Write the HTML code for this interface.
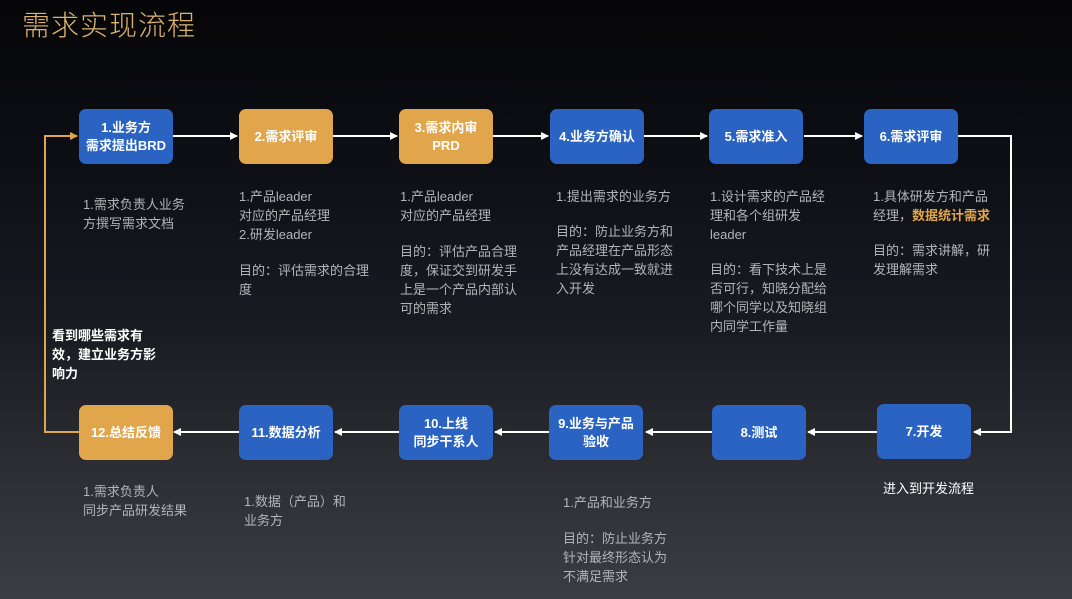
<!DOCTYPE html>
<html><head><meta charset="utf-8"><style>
*{margin:0;padding:0}
body{width:1072px;height:599px;overflow:hidden;position:relative;font-family:"Liberation Sans","Noto Sans CJK SC",sans-serif;
background:linear-gradient(180deg,#060608 0%,#0d0e14 25%,#1a1b22 55%,#2e2f35 80%,#3c3d42 100%);}
.t{position:absolute;left:22px;top:4px;font-size:28px;color:#dcb46c;letter-spacing:1px;font-weight:300}
.b{position:absolute;width:94px;height:55px;border-radius:7px;color:#fff;font-weight:bold;font-size:13px;line-height:18px;display:flex;align-items:center;justify-content:center;text-align:center}
.bl{background:#2a63c2}.or{background:#e1a64b}
.d{position:absolute;font-size:13px;line-height:19px;color:#b4b4b8;white-space:nowrap}
.w{color:#fff}
svg{position:absolute;left:0;top:0}
</style></head><body>
<div class="t">需求实现流程</div>
<svg width="1072" height="599">
<defs><marker id="a" markerWidth="8" markerHeight="8" refX="7" refY="4" orient="auto" markerUnits="userSpaceOnUse"><path d="M0,0 L8,4 L0,8 z" fill="#fff"/></marker>
<marker id="o" markerWidth="8" markerHeight="8" refX="7" refY="4" orient="auto" markerUnits="userSpaceOnUse"><path d="M0,0 L8,4 L0,8 z" fill="#e1a64b"/></marker></defs>
<g stroke="#fff" stroke-width="2" fill="none">
<line x1="173" y1="136" x2="237" y2="136" marker-end="url(#a)"/>
<line x1="333" y1="136" x2="397" y2="136" marker-end="url(#a)"/>
<line x1="493" y1="136" x2="548" y2="136" marker-end="url(#a)"/>
<line x1="644" y1="136" x2="707" y2="136" marker-end="url(#a)"/>
<line x1="804" y1="136" x2="862" y2="136" marker-end="url(#a)"/>
<polyline points="958,136 1011,136 1011,432 974,432" marker-end="url(#a)"/>
<line x1="877" y1="432" x2="808" y2="432" marker-end="url(#a)"/>
<line x1="712" y1="432" x2="646" y2="432" marker-end="url(#a)"/>
<line x1="549" y1="432" x2="495" y2="432" marker-end="url(#a)"/>
<line x1="399" y1="432" x2="335" y2="432" marker-end="url(#a)"/>
<line x1="239" y1="432" x2="174" y2="432" marker-end="url(#a)"/>
</g>
<polyline points="79,432 45,432 45,136 77,136" stroke="#e1a64b" stroke-width="2" fill="none" marker-end="url(#o)"/>
</svg>
<div class="b bl" style="left:79px;top:109px">1.业务方<br>需求提出BRD</div>
<div class="b or" style="left:239px;top:109px">2.需求评审</div>
<div class="b or" style="left:399px;top:109px">3.需求内审<br>PRD</div>
<div class="b bl" style="left:550px;top:109px">4.业务方确认</div>
<div class="b bl" style="left:709px;top:109px">5.需求准入</div>
<div class="b bl" style="left:864px;top:109px">6.需求评审</div>
<div class="b bl" style="left:877px;top:404px">7.开发</div>
<div class="b bl" style="left:712px;top:405px">8.测试</div>
<div class="b bl" style="left:549px;top:405px">9.业务与产品<br>验收</div>
<div class="b bl" style="left:399px;top:405px">10.上线<br>同步干系人</div>
<div class="b bl" style="left:239px;top:405px">11.数据分析</div>
<div class="b or" style="left:79px;top:405px">12.总结反馈</div>

<div class="d" style="left:83px;top:195px">1.需求负责人业务<br>方撰写需求文档</div>
<div class="d" style="left:239px;top:187px">1.产品leader<br>对应的产品经理<br>2.研发leader</div>
<div class="d" style="left:239px;top:261px">目的：评估需求的合理<br>度</div>
<div class="d" style="left:400px;top:187px">1.产品leader<br>对应的产品经理</div>
<div class="d" style="left:400px;top:242px">目的：评估产品合理<br>度，保证交到研发手<br>上是一个产品内部认<br>可的需求</div>
<div class="d" style="left:556px;top:187px">1.提出需求的业务方</div>
<div class="d" style="left:556px;top:222px">目的：防止业务方和<br>产品经理在产品形态<br>上没有达成一致就进<br>入开发</div>
<div class="d" style="left:710px;top:187px">1.设计需求的产品经<br>理和各个组研发<br>leader</div>
<div class="d" style="left:710px;top:260px">目的：看下技术上是<br>否可行，知晓分配给<br>哪个同学以及知晓组<br>内同学工作量</div>
<div class="d" style="left:873px;top:187px">1.具体研发方和产品<br>经理，<b style="color:#e1a64b">数据统计需求</b></div>
<div class="d" style="left:873px;top:241px">目的：需求讲解，研<br>发理解需求</div>
<div class="d w" style="left:883px;top:479px">进入到开发流程</div>
<div class="d" style="left:563px;top:493px">1.产品和业务方</div>
<div class="d" style="left:563px;top:529px">目的：防止业务方<br>针对最终形态认为<br>不满足需求</div>
<div class="d" style="left:244px;top:492px">1.数据（产品）和<br>业务方</div>
<div class="d" style="left:83px;top:482px">1.需求负责人<br>同步产品研发结果</div>
<div class="d w" style="left:52px;top:326px;font-weight:bold">看到哪些需求有<br>效，建立业务方影<br>响力</div>
</body></html>
